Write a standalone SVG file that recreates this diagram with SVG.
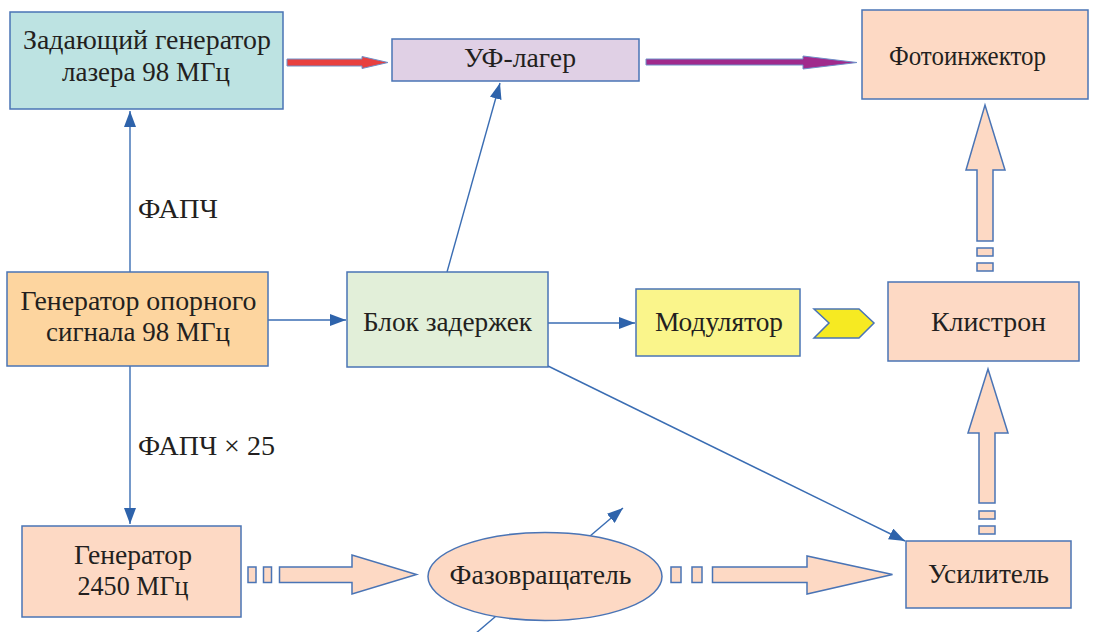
<svg xmlns="http://www.w3.org/2000/svg" width="1098" height="632" viewBox="0 0 1098 632">
<style>
.box{stroke:#4a74b5;stroke-width:1.5}
.t{font-size:27.5px;fill:#231f20;text-anchor:middle}
.lbl{font-size:27.5px;fill:#231f20}
.ln{stroke:#3a6db3;stroke-width:1.4;fill:none}
.fat{fill:#fdd9c4;stroke:#4a74b5;stroke-width:1.5}
</style>
<defs>
<marker id="ah" viewBox="0 0 16 12" refX="16" refY="6" markerWidth="16" markerHeight="12" markerUnits="userSpaceOnUse" orient="auto">
<path d="M0,0 L16,6 L0,12 Z" fill="#2e63ab"/>
</marker>
</defs>
<rect width="1098" height="632" fill="#ffffff"/>

<g id="connectors">
<line class="ln" x1="130" y1="272" x2="130" y2="111" marker-end="url(#ah)"/>
<line class="ln" x1="130" y1="366" x2="130" y2="524" marker-end="url(#ah)"/>
<line class="ln" x1="268" y1="320" x2="346" y2="320" marker-end="url(#ah)"/>
<line class="ln" x1="447" y1="272" x2="500" y2="83" marker-end="url(#ah)"/>
<line class="ln" x1="548" y1="323" x2="635" y2="323" marker-end="url(#ah)"/>
<line class="ln" x1="548" y1="366" x2="905" y2="541" marker-end="url(#ah)"/>
<line class="ln" x1="475" y1="634" x2="623" y2="508" marker-end="url(#ah)"/>
<path d="M287,59 L362,59 L362,56.5 L388,62.5 L362,68.5 L362,66 L287,66 Z" fill="#e8403f" stroke="#6f8fc8" stroke-width="1"/>
<path d="M646,59 L803,59 L803,56 L857,62.5 L803,69 L803,65 L646,65 Z" fill="#a02a8c" stroke="#6f8fc8" stroke-width="1"/>
<path d="M814,309 L859,309 L874,323 L859,338 L814,338 L829,323 Z" fill="#f6ea22" stroke="#4a74b5" stroke-width="1.5"/>
<path class="fat" d="M977,241 L977,170 L966,170 L985,105 L1005,170 L993,170 L993,241 Z"/>
<rect class="fat" x="977" y="248" width="16" height="8"/>
<rect class="fat" x="977" y="263" width="16" height="8"/>
<path class="fat" d="M979,503 L979,433 L968,433 L988,369 L1008,433 L995,433 L995,503 Z"/>
<rect class="fat" x="979" y="511" width="16" height="8"/>
<rect class="fat" x="979" y="526" width="16" height="8"/>
<rect class="fat" x="248" y="567" width="8" height="15.5"/>
<rect class="fat" x="263.5" y="567" width="8" height="15.5"/>
<path class="fat" d="M279.5,567 L352,567 L352,555 L416.5,574.5 L352,594 L352,582.5 L279.5,582.5 Z"/>
<rect class="fat" x="671" y="567" width="10" height="15.5"/>
<rect class="fat" x="692" y="567" width="10" height="15.5"/>
<path class="fat" d="M712.5,567 L807,567 L807,556 L892.5,574.5 L807,594 L807,582.5 L712.5,582.5 Z"/>
</g>

<g font-family="'Liberation Serif', 'Times New Roman', serif">
<g id="laser-gen">
<rect class="box" x="10" y="12" width="273" height="97" fill="#bde3e2"/>
<text class="t" x="147" y="48.5" textLength="248" lengthAdjust="spacingAndGlyphs">Задающий генератор</text>
<text class="t" x="146" y="80.5" textLength="168" lengthAdjust="spacingAndGlyphs">лазера 98 МГц</text>
</g>

<g id="uv-laser">
<rect class="box" x="392" y="39" width="247" height="42" fill="#e0d0e5"/>
<text class="t" x="520" y="66.5" textLength="112" lengthAdjust="spacingAndGlyphs">УФ-лагер</text>
</g>

<g id="photoinjector">
<rect class="box" x="862" y="10" width="226" height="89" fill="#fdd9c4"/>
<text class="t" x="967.5" y="65" textLength="157" lengthAdjust="spacingAndGlyphs">Фотоинжектор</text>
</g>

<g id="ref-gen">
<rect class="box" x="7" y="272" width="261" height="94" fill="#fdd59f"/>
<text class="t" x="138.5" y="310" textLength="236" lengthAdjust="spacingAndGlyphs">Генератор опорного</text>
<text class="t" x="138" y="341" textLength="184" lengthAdjust="spacingAndGlyphs">сигнала 98 МГц</text>
</g>

<g id="delay">
<rect class="box" x="347" y="272" width="201" height="95" fill="#e2efd9"/>
<text class="t" x="447.5" y="331" textLength="169" lengthAdjust="spacingAndGlyphs">Блок задержек</text>
</g>

<g id="modulator">
<rect class="box" x="636" y="289" width="164" height="67" fill="#faf58b"/>
<text class="t" x="719" y="331" textLength="128" lengthAdjust="spacingAndGlyphs">Модулятор</text>
</g>

<g id="klystron">
<rect class="box" x="888" y="282" width="191" height="79" fill="#fdd9c4"/>
<text class="t" x="988.5" y="331" textLength="115" lengthAdjust="spacingAndGlyphs">Клистрон</text>
</g>

<g id="gen2450">
<rect class="box" x="22" y="526" width="219" height="91" fill="#fdd9c4"/>
<text class="t" x="133" y="563.5" textLength="118" lengthAdjust="spacingAndGlyphs">Генератор</text>
<text class="t" x="133" y="595" textLength="111" lengthAdjust="spacingAndGlyphs">2450 МГц</text>
</g>

<g id="phase-shifter">
<ellipse class="box" cx="545" cy="576.5" rx="117" ry="44" fill="#fdd9c4"/>
<text class="t" x="540.5" y="583.5" textLength="182" lengthAdjust="spacingAndGlyphs">Фазовращатель</text>
</g>

<g id="amplifier">
<rect class="box" x="906" y="541" width="165" height="67" fill="#fdd9c4"/>
<text class="t" x="988.5" y="583" textLength="121" lengthAdjust="spacingAndGlyphs">Усилитель</text>
</g>

<g id="labels">
<text class="lbl" x="138" y="218" textLength="80" lengthAdjust="spacingAndGlyphs">ФАПЧ</text>
<text class="lbl" x="138" y="455" textLength="137" lengthAdjust="spacingAndGlyphs">ФАПЧ × 25</text>
</g>
</g>
</svg>
